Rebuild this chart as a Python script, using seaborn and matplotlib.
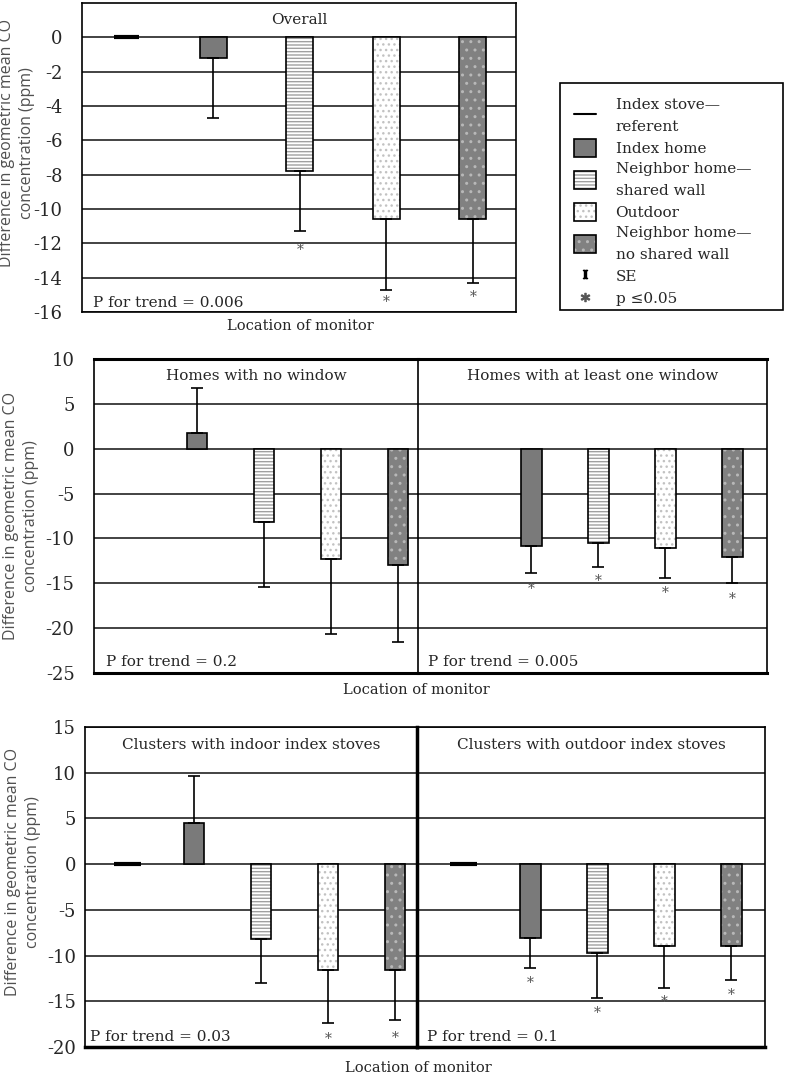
import numpy as np
import pandas as pd
import matplotlib.pyplot as plt
import seaborn as sns
from matplotlib.patches import Patch, Rectangle
from matplotlib.lines import Line2D

# ---- data (ppm difference vs. index stove) ----
locations = ["Index stove—referent", "Index home", "Neighbor home—shared wall",
             "Outdoor", "Neighbor home—no shared wall"]
legend_labels = ["Index stove—\nreferent", "Index home", "Neighbor home—\nshared wall",
                 "Outdoor", "Neighbor home—\nno shared wall"]

overall_diff = [0.0, -1.2, -7.8, -10.6, -10.6]
overall_se = [np.nan, -4.7, -11.3, -14.7, -14.3]
overall_star = [np.nan, np.nan, -12.4, -15.4, -15.1]

nowindow_diff = [np.nan, 1.7, -8.2, -12.3, -13.0]
nowindow_se = [np.nan, 6.8, -15.4, -20.7, -21.5]
nowindow_star = [np.nan, np.nan, np.nan, np.nan, np.nan]

window_diff = [np.nan, -10.8, -10.5, -11.1, -12.1]
window_se = [np.nan, -13.9, -13.2, -14.4, -15.0]
window_star = [np.nan, -15.6, -14.8, -16.1, -16.8]

indoor_diff = [0.0, 4.45, -8.2, -11.6, -11.6]
indoor_se = [np.nan, 9.6, -13.0, -17.4, -17.1]
indoor_star = [np.nan, np.nan, np.nan, -19.1, -19.0]

outdoor_diff = [0.0, -8.1, -9.7, -8.9, -8.9]
outdoor_se = [np.nan, -11.4, -14.6, -13.5, -12.7]
outdoor_star = [np.nan, -13.0, -16.3, -15.1, -14.3]

ylabel = "Difference in geometric mean CO\nconcentration (ppm)"

# fill styles: facecolor, hatch, hatch colour
styles = {
    "Index home": ("#7a7a7a", None, "#7a7a7a"),
    "Neighbor home—shared wall": ("white", "-----", "#a0a0a0"),
    "Outdoor": ("white", "...", "#c2c2c2"),
    "Neighbor home—no shared wall": ("#818181", "..", "#b8b8b8"),
}

sns.set_theme(style="white")
plt.rcParams["font.family"] = ["DejaVu Serif"]
plt.rcParams["mathtext.fontset"] = "dejavuserif"
plt.rcParams["axes.unicode_minus"] = False
plt.rcParams["hatch.linewidth"] = 1.0

W, H = 787, 1078
fig = plt.figure(figsize=(W / 100, H / 100), dpi=100)


def rect(x0, x1, y0, y1):
    return [x0 / W, 1 - y1 / H, (x1 - x0) / W, (y1 - y0) / H]


def draw_panel(ax, diff, se, star, xlim, ylim, yticks, title, ptext, ref_w=0.3):
    df = pd.DataFrame({"location": locations, "diff": diff, "se": se, "star": star})
    df["pos"] = np.arange(len(df))
    bars = df[(df["location"] != locations[0]) & df["diff"].notna()]
    sns.barplot(data=bars, x="location", y="diff", order=locations, ax=ax,
                width=0.31, color="white", saturation=1, errorbar=None)
    for p in list(ax.patches):
        idx = int(round(p.get_x() + p.get_width() / 2))
        fc, hatch, hc = styles[locations[idx]]
        p.set_facecolor(fc)
        p.set_edgecolor(hc)
        p.set_linewidth(0)
        if hatch:
            p.set_hatch(hatch)
        ax.add_patch(Rectangle(p.get_xy(), p.get_width(), p.get_height(),
                               fill=False, edgecolor="black", linewidth=1.2, zorder=p.get_zorder() + 0.1))
    ref = df.iloc[0]
    if pd.notna(ref["diff"]):
        ax.hlines(ref["diff"], ref["pos"] - ref_w / 2, ref["pos"] + ref_w / 2,
                  color="black", linewidth=3, zorder=3)
    eb = df[df["se"].notna()]
    lower = np.where(eb["se"] < eb["diff"], eb["diff"] - eb["se"], 0)
    upper = np.where(eb["se"] > eb["diff"], eb["se"] - eb["diff"], 0)
    ax.errorbar(eb["pos"], eb["diff"], yerr=[lower, upper], fmt="none",
                ecolor="black", elinewidth=1.2, capsize=4, capthick=1.2, zorder=4)
    st = df[df["star"].notna()]
    for x, y in zip(st["pos"], st["star"]):
        ax.text(x, y, "*", ha="center", va="center", color="#555555", fontsize=10)

    ax.set_facecolor("none")
    ax.set_xlim(*xlim)
    ax.set_ylim(*ylim)
    ax.set_yticks(yticks)
    ax.set_xticks([])
    ax.set_xlabel("")
    ax.set_ylabel("")
    ax.set_axisbelow(True)
    ax.grid(axis="y", color="#222222", linewidth=1.2)
    ax.grid(axis="x", visible=False)
    for s in ax.spines.values():
        s.set_color("black")
        s.set_linewidth(1.2)
    ax.text(0.5, 0.945, title, transform=ax.transAxes, ha="center", va="center", fontsize=11)
    ax.text(ptext[0], ptext[1], ptext[2], transform=ax.transAxes, ha="left", va="center", fontsize=11)


def side_label(x, y):
    fig.text(x / W, 1 - y / H, ylabel, rotation=90, ha="center", va="center",
             multialignment="center", family="Open Sans", color="#505050",
             fontsize=11.5, linespacing=1.35)


# ---- top panel: overall ----
ax1 = fig.add_axes(rect(82, 516, 3, 312))
draw_panel(ax1, overall_diff, overall_se, overall_star, (-0.52, 4.50), (-16, 2),
           range(0, -17, -2), "Overall", (0.025, 0.03, "P for trend = 0.006"), ref_w=0.29)
ax1.tick_params(axis="y", length=0, pad=14, labelsize=13)
fig.text(300 / W, 1 - 326 / H, "Location of monitor", ha="center", va="center", fontsize=10.5)
side_label(17, 143)

# ---- middle panel: windows ----
ax2 = fig.add_axes(rect(94, 418, 359, 673))
ax3 = fig.add_axes(rect(418, 767, 359, 673))
draw_panel(ax2, nowindow_diff, nowindow_se, nowindow_star, (-0.54, 4.30), (-25, 10),
           range(10, -26, -5), "Homes with no window", (0.037, 0.036, "P for trend = 0.2"))
draw_panel(ax3, window_diff, window_se, window_star, (-0.69, 4.52), (-25, 10),
           range(10, -26, -5), "Homes with at least one window", (0.03, 0.036, "P for trend = 0.005"))
ax2.tick_params(axis="y", length=0, pad=14, labelsize=13)
ax3.tick_params(axis="y", length=0, labelleft=False)
for a in (ax2, ax3):
    a.spines["top"].set_linewidth(2.2)
    a.spines["bottom"].set_linewidth(2.2)
ax2.spines["right"].set_visible(False)
ax3.spines["left"].set_linewidth(1.2)
fig.text(416 / W, 1 - 690 / H, "Location of monitor", ha="center", va="center", fontsize=10.5)
side_label(21, 516)

# ---- bottom panel: stove location ----
ax4 = fig.add_axes(rect(85, 417, 727, 1047))
ax5 = fig.add_axes(rect(417, 765, 727, 1047))
draw_panel(ax4, indoor_diff, indoor_se, indoor_star, (-0.63, 4.33), (-20, 15),
           range(15, -21, -5), "Clusters with indoor index stoves", (0.015, 0.03, "P for trend = 0.03"),
           ref_w=0.4)
draw_panel(ax5, outdoor_diff, outdoor_se, outdoor_star, (-0.69, 4.50), (-20, 15),
           range(15, -21, -5), "Clusters with outdoor index stoves", (0.03, 0.03, "P for trend = 0.1"),
           ref_w=0.4)
ax4.tick_params(axis="y", length=0, pad=6.5, labelsize=13)
ax5.tick_params(axis="y", length=0, labelleft=False)
for a in (ax4, ax5):
    a.spines["bottom"].set_linewidth(2.5)
ax4.spines["right"].set_visible(False)
ax5.spines["left"].set_linewidth(2.5)
fig.text(418 / W, 1 - 1068 / H, "Location of monitor", ha="center", va="center", fontsize=10.5)
side_label(23, 872)

# ---- legend ----
handles = [Line2D([], [], color="black", linewidth=1.5)]
for loc in locations[1:]:
    fc, hatch, hc = styles[loc]
    handles.append((Patch(facecolor=fc, hatch=hatch, edgecolor=hc, linewidth=0),
                    Patch(fill=False, edgecolor="black", linewidth=1.2)))
handles.append(Line2D([], [], linestyle="none", marker=r"$\mathrm{I}$", markersize=6, color="black"))
handles.append(Line2D([], [], linestyle="none", marker=r"$*$", markersize=6, color="#555555"))
labels = legend_labels + ["SE", "p ≤0.05"]
leg = fig.legend(handles, labels, loc="upper left",
                 bbox_to_anchor=(569 / W, 1 - 83 / H), borderaxespad=0,
                 fontsize=11, frameon=False,
                 handlelength=1.45, handleheight=1.4, handletextpad=1.3,
                 borderpad=0.3, labelspacing=0.33, title=" ", title_fontsize=4)
for t in leg.get_texts():
    t.set_linespacing(1.75)
# legend box
fig.add_artist(Rectangle((560 / W, 1 - 310 / H), 223 / W, 227 / H, transform=fig.transFigure,
                         fill=False, edgecolor="black", linewidth=1.2))

fig.savefig("out.png", dpi=100)
